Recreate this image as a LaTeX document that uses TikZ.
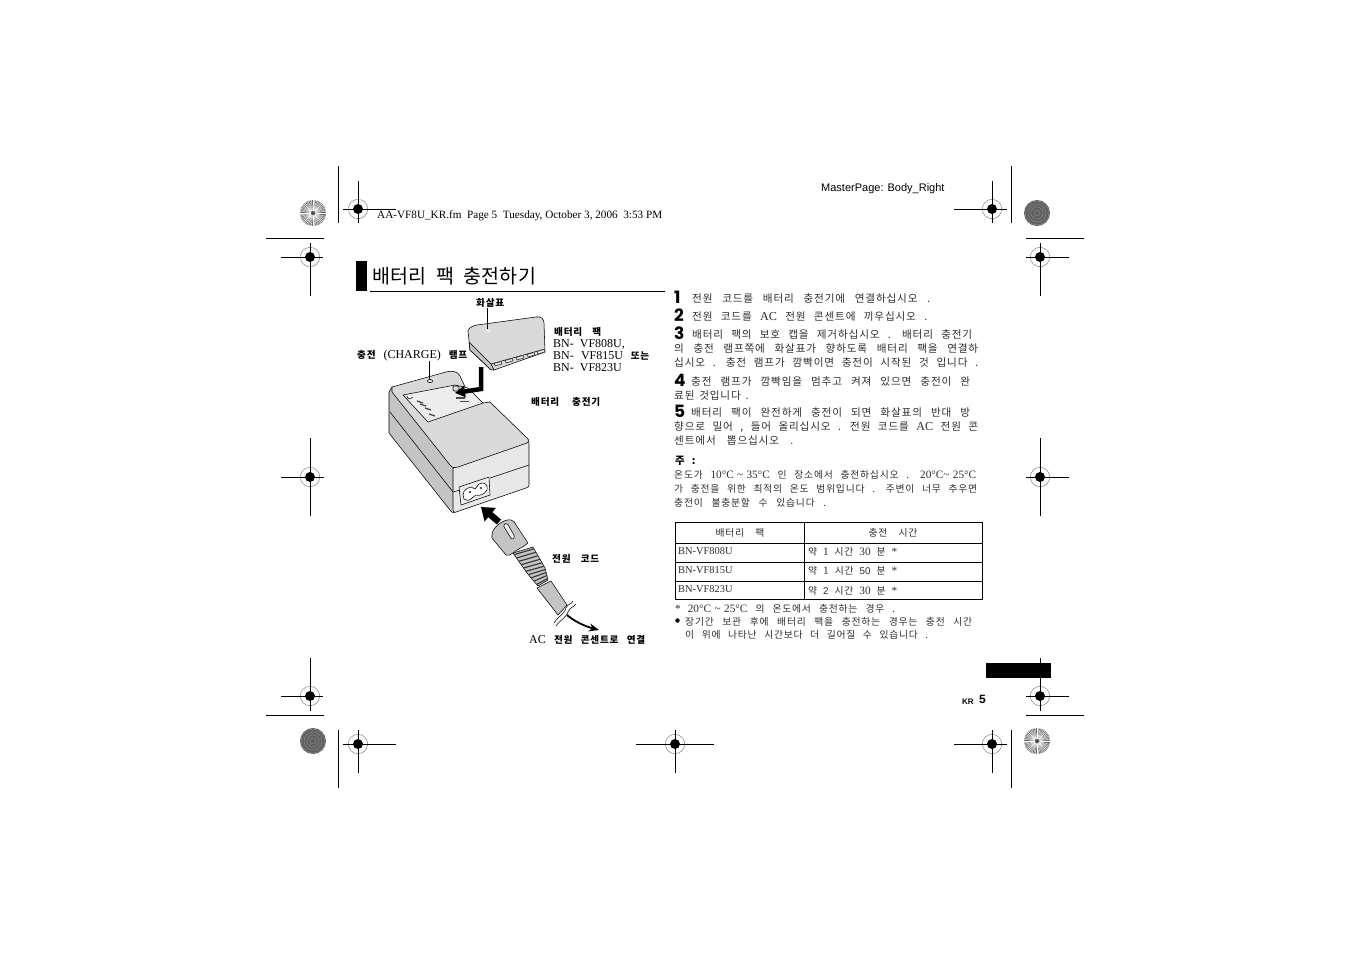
\documentclass[tikz,border=0pt]{standalone}
\usepackage{fontspec}
\setmainfont{Noto Sans CJK KR}[LetterSpace=8,WordSpace=2.2]
\newfontfamily\latfont{Liberation Serif}[Scale=1.15]
\newfontfamily\plainfont{Liberation Serif}
\newfontfamily\helvfont{Liberation Sans}
\newfontfamily\numfont{Poppins}
\newfontfamily\headfont{Noto Sans CJK KR}[LetterSpace=2,WordSpace=1.2]
\usetikzlibrary{arrows.meta}
\newcommand\lat[1]{{\latfont #1}}
\newcommand\helv[1]{{\helvfont #1}}
\newcommand\fit[2]{\makebox[#1pt][s]{#2}}
\newcommand\tildesign{\textasciitilde{}}
\definecolor{topgray}{gray}{0.85}
\definecolor{sidegray}{gray}{0.77}
\definecolor{panelgray}{gray}{0.93}
\tikzset{
  bodyline/.style = {anchor = base west, inner sep = 0pt, text = black!82, font = \fontsize{10.6}{12}\selectfont},
  noteline/.style = {bodyline, font = \fontsize{9.8}{11}\selectfont},
  callout/.style = {anchor = base west, inner sep = 0pt, font = \fontsize{9.6}{11}\selectfont\bfseries},
  stepnum/.style = {anchor = base west, inner sep = 0pt, font = \fontsize{17}{18}\selectfont\numfont\bfseries},
  cellline/.style = {bodyline, font = \fontsize{9.8}{11}\selectfont},
  caseline/.style = {draw = black, line width = 0.55pt, line join = round},
  crop/.style = {draw = black, line width = 0.9pt}
}
\begin{document}
\begin{tikzpicture}[x = 1pt, y = -1pt]
\fill[white] (0,0) rectangle (1351,954);
\useasboundingbox (0,0) rectangle (1351,954);
% crop lines
\foreach \ax/\ay/\bx/\by in {338/166/338/223, 1011/166/1011/223, 338/730/338/788, 1011/730/1011/788, 266/238/324/238, 1026/238/1084/238, 266/715/324/715, 1026/715/1084/715}
  \draw[crop] (\ax,\ay) -- (\bx,\by);
% register marks
\foreach \cx/\cy/\xa/\xb/\ya/\yb in {358/209/343/396/181/223, 992/209/954/1007/181/223, 310/257/281/323/243/296, 1040/257/1026/1069/243/296, 310/477/281/324/438/516, 1040/477/1026/1069/438/516, 310/696/281/323/658/711, 1040/696/1026/1069/658/711, 358/744/343/396/730/773, 675/744/636/714/730/773, 992/744/954/1007/730/773} {
  \draw[gray, line width = 0.5pt] (\cx,\cy) circle [radius = 9.7pt];
  \fill[black] (\cx,\cy) circle [radius = 5pt];
  \draw[crop] (\xa,\cy) -- (\xb,\cy);
  \draw[crop] (\cx,\ya) -- (\cx,\yb);
}
% star discs
\foreach \cx/\cy in {313/213, 1037/741} {
  \fill[black!58] (\cx,\cy) circle [radius = 13pt];
  \foreach \a in {0,7.5,...,352} \draw[white, line width = 0.4pt] (\cx,\cy) ++(\a:2.5pt) -- ++(\a:10.5pt);
  \fill[black!80] (\cx,\cy) circle [radius = 1pt];
}
% dark discs
\foreach \cx/\cy in {1037/213, 313/741} {
  \fill[black!62] (\cx,\cy) circle [radius = 13pt];
  \foreach \r in {3,6,9,12} \draw[black!50, line width = 0.6pt] (\cx,\cy) circle [radius = \r pt];
}
% heading
\fill[black] (356,261) rectangle (367,291);
\draw[black, line width = 0.8pt] (370,291) -- (665,291);
\node (heading) [anchor = base west, inner sep = 0pt, font = \fontsize{19.5}{22}\selectfont\headfont] at (372,283) {\fit{164}{배터리 팩 충전하기}};
\node (filename) [anchor = base west, inner sep = 0pt, font = \fontsize{11.2}{13}\selectfont\plainfont] at (377,218.5) {AA-VF8U\_KR.fm\ \ Page 5\ \ Tuesday, October 3, 2006\ \ 3:53 PM};
\node (masterpage) [anchor = base west, inner sep = 0pt, font = \fontsize{11}{13}\selectfont\helvfont] at (821,191) {MasterPage: Body\_Right};
\fill[black] (986,663) rectangle (1051,678);
\node (langtag) [anchor = base west, inner sep = 0pt, font = \fontsize{8}{10}\selectfont\helvfont\bfseries] at (962,704) {KR};
\node (pagenum) [anchor = base west, inner sep = 0pt, font = \fontsize{12}{14}\selectfont\helvfont\bfseries] at (979,703.5) {5};
% charger
\draw[caseline, fill = sidegray] (392,387) -- (389,392) -- (389,433) -- (450,510) .. controls (452,513) and (454,513) .. (456,512) -- (456,468) -- cycle;
\draw[caseline, fill = panelgray!70!topgray] (453,468) -- (527,442) .. controls (529,441) and (529,442) .. (529,444) -- (529,485) .. controls (529,487) and (528,487) .. (526,488) -- (456,512) .. controls (453,513) and (453,511) .. (453,509) -- cycle;
\draw[caseline, fill = topgray] (392,387) -- (446,372) .. controls (453,370) and (458,372) .. (460,376) -- (466,389) -- (483,403) -- (490,402) -- (527,438) .. controls (530,441) and (529,442) .. (527,443) -- (458,467) .. controls (454,468) and (452,468) .. (450,465) -- (392,392) -- cycle;
\draw[caseline, fill = panelgray] (403,395) -- (455,385) -- (468,388) -- (483,403) -- (428,422) -- cycle;
\draw[caseline] (390,412) -- (453,492);
\draw[caseline] (453,492) -- (460,490);
\draw[caseline] (490,478) -- (529,465);
\draw[caseline, fill = white] (407,396) arc [start angle = 180, end angle = 340, radius = 3pt];
\draw[caseline, fill = topgray, rounded corners = 1pt] (453,386) rectangle (459,391);
\foreach \lx/\ly in {420/402, 423/405, 428/409, 432/415}
  \draw[black!70, line width = 1.3pt] (\lx-3,\ly-1) -- (\lx+3,\ly+1);
\foreach \lx/\ly in {460/398, 464/401.5}
  \draw[black!70, line width = 1.1pt] (\lx-4,\ly) -- (\lx+5,\ly);
\draw[caseline, fill = panelgray] (430,381) ellipse [x radius = 2.6pt, y radius = 1.6pt];
% power socket
\draw[caseline, fill = panelgray] (459,487) -- (489,477) -- (490,495) -- (461,505) -- cycle;
\draw[caseline, fill = white] (464,499) .. controls (461,493) and (465,488) .. (471,487) -- (475,489) -- (479,484) .. controls (486,481) and (488,486) .. (487,490) .. controls (484,495) and (479,496) .. (476,495) -- (472,498) .. controls (469,501) and (466,501) .. (464,499) -- cycle;
\fill[black!70] (470,492) circle [radius = 1.4pt];
\fill[black!70] (481,488) circle [radius = 1.4pt];
% battery
\draw[caseline, fill = topgray] (468,331) .. controls (469,327) and (473,326) .. (477,325) -- (536,317) .. controls (541,316) and (544,319) .. (544,323) -- (545,352) -- (494,370) .. controls (491,371) and (490,369) .. (488,367) -- (470,350) -- cycle;
\draw[caseline, fill = sidegray] (469,342) -- (491,364) -- (494,370) .. controls (491,371) and (490,369) .. (488,367) -- (470,350) -- cycle;
\draw[caseline] (491,364) -- (545,349);
\foreach \tx/\ty in {494/363.5, 505/360.5, 516/357.5, 527/354.5, 537/351.5}
  \draw[black!80, line width = 0.6pt, fill = panelgray] (\tx,\ty) -- ++(7,-2) -- ++(1,2.4) -- ++(-7,2) -- cycle;
\coordinate (arrowmark) at (487,329);
\coordinate (lamphole) at (429.5,379);
\fill[panelgray] (488,331) ellipse [x radius = 2.6pt, y radius = 1.6pt];
% insert arrow
\coordinate (battdrop) at (481,367);
\coordinate (battbend) at (481,389);
\coordinate (batttip) at (455,393);
\draw[black, line width = 4.5pt, -{Triangle[length = 10pt, width = 11pt]}] (battdrop) -- (battbend) -- (batttip);
% plug
\draw[caseline, fill = sidegray] (537,588) -- (558,615) -- (567,605) -- (551,581) -- cycle;
\draw[caseline, fill = sidegray] (513,553) -- (527,573) -- (538,586) -- (548,580) -- (545,568) -- (533,547) -- cycle;
\foreach \t in {0.05,0.15,...,0.96} {
  \pgfmathsetmacro\lx{513+14*min(\t/0.6,1)+11*max((\t-0.6)/0.4,0)}
  \pgfmathsetmacro\ly{553+20*min(\t/0.6,1)+13*max((\t-0.6)/0.4,0)}
  \pgfmathsetmacro\rx{533+12*min(\t/0.6,1)+3*max((\t-0.6)/0.4,0)}
  \pgfmathsetmacro\ry{547+21*min(\t/0.6,1)+12*max((\t-0.6)/0.4,0)}
  \draw[black!80, line width = 1.1pt] (\lx,\ly) -- (\rx,\ry);
}
\draw[caseline, fill = sidegray] (492,535) .. controls (492,531) and (495,527) .. (499,524) .. controls (503,521) and (508,519) .. (511,520) .. controls (514,520) and (515,523) .. (516,525) -- (528,543) .. controls (524,547) and (517,549) .. (513,553) .. controls (510,555) and (508,556) .. (506,555) -- (492,538) -- cycle;
\draw[caseline, fill = panelgray, rounded corners = 1.5pt] (503,525) -- (507,523) -- (515,537) -- (512,540) -- cycle;
\fill[white] (554,623) .. controls (560,614) and (563,616) .. (566,608) .. controls (568,603) and (571,605) .. (573,601) -- (576,604) .. controls (573,608) and (570,607) .. (568,612) .. controls (565,619) and (561,619) .. (556,626) -- cycle;
\draw[caseline] (554,623) .. controls (560,614) and (563,616) .. (566,608) .. controls (568,603) and (571,605) .. (573,601);
\draw[caseline] (556,626) .. controls (561,619) and (565,619) .. (568,612) .. controls (570,607) and (573,608) .. (576,604);
\coordinate (cordfrom) at (567,615);
\coordinate (cordto) at (599,630);
\draw[black, line width = 1.8pt, -{Stealth[length = 10pt, width = 8pt]}] (cordfrom) .. controls (574,621) and (584,626) .. (cordto);
\coordinate (plugtail) at (499,522);
\coordinate (plugtip) at (481,507);
\draw[black, line width = 6.5pt, -{Triangle[length = 12pt, width = 17pt]}] (plugtail) -- (plugtip);
% callouts
\node (lblarrow) [callout] at (476,306.5) {\fit{33}{화살표}};
\node (lblpack) [callout] at (554,335) {\fit{47}{배터리 팩}};
\node (lbl808) [callout] at (553,347.5) {\plainfont\mdseries\fontsize{12}{13}\selectfont BN-\ \ VF808U,};
\node (lbl815) [callout] at (553,359.5) {\fit{96}{{\plainfont\mdseries\fontsize{12}{13}\selectfont BN-\ \ VF815U} 또는}};
\node (lbl823) [callout] at (553,371) {\plainfont\mdseries\fontsize{12}{13}\selectfont BN-\ \ VF823U};
\node (lbllamp) [callout] at (357,358) {\fit{110}{충전 {\plainfont\mdseries\fontsize{12}{13}\selectfont (CHARGE)} 램프}};
\node (lblcharger) [callout] at (531,405) {\fit{69}{배터리 충전기}};
\node (lblcord) [callout] at (552,562) {\fit{47}{전원 코드}};
\node (lblmains) [callout] at (529,643) {\fit{116}{{\plainfont\mdseries\fontsize{12}{13}\selectfont AC} 전원 콘센트로 연결}};
\draw[black, line width = 0.5pt] (lblarrow.south -| arrowmark) -- (arrowmark);
\draw[black, line width = 0.5pt] (429.5,361) -- (lamphole);
% steps
\node (num1) [stepnum] at (674,303) {1};
\node (num2) [stepnum] at (674,321) {2};
\node (num3) [stepnum] at (674,339) {3};
\node (num4) [stepnum] at (674,386) {4};
\node (num5) [stepnum] at (674,417) {5};
\node (line1) [bodyline] at (692,302) {\fit{238}{전원 코드를 배터리 충전기에 연결하십시오 .}};
\node (line2) [bodyline] at (692,320) {\fit{235}{전원 코드를 \lat{AC} 전원 콘센트에 끼우십시오 .}};
\node (line3a) [bodyline] at (692,338.5) {\fit{280}{배터리 팩의 보호 캡을 제거하십시오 . 배터리 충전기}};
\node (line3b) [bodyline] at (674,352.5) {\fit{304}{의 충전 램프쪽에 화살표가 향하도록 배터리 팩을 연결하}};
\node (line3c) [bodyline] at (674,366) {\fit{304}{십시오 . 충전 램프가 깜빡이면 충전이 시작된 것 입니다 .}};
\node (line4a) [bodyline] at (691,385) {\fit{279}{충전 램프가 깜빡임을 멈추고 켜져 있으면 충전이 완}};
\node (line4b) [bodyline] at (674,399) {\fit{74}{료된 것입니다 .}};
\node (line5a) [bodyline] at (691,416.5) {\fit{279}{배터리 팩이 완전하게 충전이 되면 화살표의 반대 방}};
\node (line5b) [bodyline] at (674,430.5) {\fit{304}{향으로 밀어 , 들어 올리십시오 . 전원 코드를 \lat{AC} 전원 콘}};
\node (line5c) [bodyline] at (674,444) {\fit{119}{센트에서 뽑으십시오 .}};
\node (notehead) [callout, font = \fontsize{10.5}{12}\selectfont\bfseries] at (675,464) {주 :};
\node (note1) [noteline] at (674,478) {\fit{302}{온도가 \lat{10°C \tildesign\ 35°C} 인 장소에서 충전하십시오 . \lat{20°C\tildesign\ 25°C}}};
\node (note2) [noteline] at (674,492) {\fit{303}{가 충전을 위한 최적의 온도 범위입니다 . 주변이 너무 추우면}};
\node (note3) [noteline] at (674,506) {\fit{152}{충전이 불충분할 수 있습니다 .}};
% table
\draw[black, line width = 0.7pt] (675,522) rectangle (982,599);
\foreach \ry in {543,562,581} \draw[black, line width = 0.7pt] (675,\ry) -- (982,\ry);
\draw[black, line width = 0.7pt] (804,522) -- (804,599);
\node (headpack) [cellline, anchor = base] at (740,536) {\fit{49}{배터리 팩}};
\node (headtime) [cellline, anchor = base] at (893,536) {\fit{49}{충전 시간}};
\node (cell808) [cellline] at (678,554) {\plainfont\fontsize{10.4}{12}\selectfont BN-VF808U};
\node (cell815) [cellline] at (678,573) {\plainfont\fontsize{10.4}{12}\selectfont BN-VF815U};
\node (cell823) [cellline] at (678,592) {\plainfont\fontsize{10.4}{12}\selectfont BN-VF823U};
\node (time808) [cellline] at (808,555) {\fit{89}{약 \lat{1} 시간 \lat{30} 분 \lat{*}}};
\node (time815) [cellline] at (808,574) {\fit{89}{약 \lat{1} 시간 \helv{50} 분 \lat{*}}};
\node (time823) [cellline] at (808,594) {\fit{89}{약 \helv{2} 시간 \lat{30} 분 \lat{*}}};
% footnotes
\node (foot1) [noteline] at (675,612) {\fit{220}{\lat{*\ \ 20°C \tildesign\ 25°C} 의 온도에서 충전하는 경우 .}};
\fill[black] (677.5,620.5) circle [radius = 2.2pt];
\node (foot2) [noteline] at (685,625) {\fit{287}{장기간 보관 후에 배터리 팩을 충전하는 경우는 충전 시간}};
\node (foot3) [noteline] at (685,638) {\fit{243}{이 위에 나타난 시간보다 더 길어질 수 있습니다 .}};
\end{tikzpicture}
\end{document}
